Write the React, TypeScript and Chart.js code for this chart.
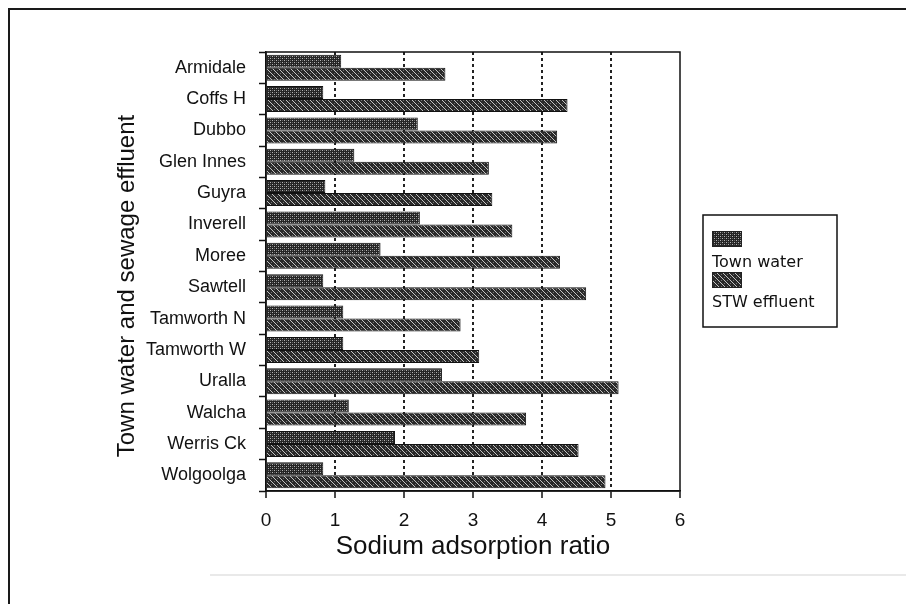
import React, { useEffect, useRef } from "react";
import { Chart, registerables } from "chart.js";

Chart.register(...registerables);

const categories = [
  "Armidale", "Coffs H", "Dubbo", "Glen Innes", "Guyra", "Inverell", "Moree",
  "Sawtell", "Tamworth N", "Tamworth W", "Uralla", "Walcha", "Werris Ck", "Wolgoolga",
];
const townWater = [1.09, 0.83, 2.2, 1.28, 0.86, 2.23, 1.66, 0.83, 1.12, 1.12, 2.55, 1.2, 1.87, 0.83];
const stwEffluent = [2.6, 4.37, 4.22, 3.23, 3.28, 3.57, 4.26, 4.64, 2.82, 3.09, 5.11, 3.77, 4.53, 4.92];
const xTicks = [0, 1, 2, 3, 4, 5, 6];
const seriesNames = ["Town water", "STW effluent"];
const xTitle = "Sodium adsorption ratio";
const yTitle = "Town water and sewage effluent";

function makeTownPattern(): CanvasPattern | string {
  const c = document.createElement("canvas");
  c.width = 4;
  c.height = 4;
  const g = c.getContext("2d");
  if (!g) return "#444";
  g.fillStyle = "#252525";
  g.fillRect(0, 0, 4, 4);
  g.fillStyle = "#b4b4b4";
  g.fillRect(0, 0, 1, 1);
  g.fillRect(2, 2, 1, 1);
  g.fillStyle = "#636363";
  g.fillRect(2, 0, 1, 1);
  g.fillRect(0, 2, 1, 1);
  const p = g.createPattern(c, "repeat");
  return p || "#444";
}

function makeStwPattern(): CanvasPattern | string {
  const c = document.createElement("canvas");
  c.width = 6;
  c.height = 6;
  const g = c.getContext("2d");
  if (!g) return "#444";
  g.fillStyle = "#2a2a2a";
  g.fillRect(0, 0, 6, 6);
  g.fillStyle = "#c4c4c4";
  for (let i = 0; i < 6; i++) g.fillRect(i, i, 1, 1);
  g.fillStyle = "#747474";
  g.fillRect(4, 1, 1, 1);
  g.fillRect(1, 4, 1, 1);
  const p = g.createPattern(c, "repeat");
  return p || "#444";
}

export default function App() {
  const ref = useRef<HTMLCanvasElement | null>(null);

  useEffect(() => {
    const canvas = ref.current;
    if (!canvas) return;
    const townPat = makeTownPattern();
    const stwPat = makeStwPattern();

    const decor = {
      id: "decor",
      beforeDraw(chart: any) {
        const ctx = chart.ctx;
        ctx.save();
        ctx.fillStyle = "#ffffff";
        ctx.fillRect(0, 0, chart.width, chart.height);
        // outer frame
        ctx.strokeStyle = "#1a1a1a";
        ctx.lineWidth = 2;
        ctx.beginPath();
        ctx.moveTo(9, 604);
        ctx.lineTo(9, 9);
        ctx.lineTo(906, 9);
        ctx.stroke();
        ctx.strokeStyle = "#e2e2e2";
        ctx.lineWidth = 1.5;
        ctx.beginPath();
        ctx.moveTo(210, 575);
        ctx.lineTo(906, 575);
        ctx.stroke();
        ctx.restore();
      },
      afterDraw(chart: any) {
        const ctx = chart.ctx;
        const a = chart.chartArea;
        ctx.save();
        // plot border
        ctx.strokeStyle = "#111";
        ctx.lineWidth = 1.5;
        ctx.strokeRect(a.left, a.top, a.right - a.left, a.bottom - a.top);
        // y title
        ctx.fillStyle = "#111";
        ctx.font = "24px 'Liberation Sans', Arial, sans-serif";
        ctx.textAlign = "center";
        ctx.textBaseline = "alphabetic";
        ctx.translate(134, 286);
        ctx.rotate(-Math.PI / 2);
        ctx.fillText(yTitle, 0, 0);
        ctx.restore();

        // legend
        ctx.save();
        ctx.strokeStyle = "#111";
        ctx.lineWidth = 1.5;
        ctx.strokeRect(703, 215, 134, 112);
        const pats = [townPat, stwPat];
        const swY = [231, 272];
        const txY = [267, 307];
        ctx.font = "16px 'DejaVu Sans', sans-serif";
        ctx.textAlign = "left";
        ctx.textBaseline = "alphabetic";
        for (let i = 0; i < 2; i++) {
          ctx.fillStyle = pats[i] as any;
          ctx.fillRect(712, swY[i], 30, 16);
          ctx.strokeStyle = "#222";
          ctx.lineWidth = 1;
          ctx.strokeRect(712.5, swY[i] + 0.5, 29, 15);
          ctx.fillStyle = "#111";
          ctx.fillText(seriesNames[i], 712, txY[i]);
        }
        ctx.restore();
      },
    };

    const chart = new Chart(canvas, {
      type: "bar",
      data: {
        labels: categories,
        datasets: [
          {
            label: seriesNames[0],
            data: townWater,
            backgroundColor: townPat as any,
            borderColor: "#111",
            borderWidth: 1,
            categoryPercentage: 0.83,
            barPercentage: 1.0,
          },
          {
            label: seriesNames[1],
            data: stwEffluent,
            backgroundColor: stwPat as any,
            borderColor: "#111",
            borderWidth: 1,
            categoryPercentage: 0.83,
            barPercentage: 1.0,
          },
        ],
      },
      options: {
        indexAxis: "y",
        animation: false,
        responsive: false,
        maintainAspectRatio: false,
        devicePixelRatio: 1,
        layout: { padding: { left: 0, top: 52, right: 226, bottom: 0 } },
        plugins: {
          legend: { display: false },
          tooltip: { enabled: false },
          title: { display: false },
        },
        scales: {
          x: {
            type: "linear",
            min: 0,
            max: 6,
            afterFit: (s: any) => {
              s.height = 113;
            },
            afterBuildTicks: (s: any) => {
              s.ticks = xTicks.map((v) => ({ value: v }));
            },
            ticks: {
              color: "#111",
              font: { family: "'Liberation Sans', Arial, sans-serif", size: 19 },
              padding: 11,
              maxRotation: 0,
              callback: (v: any) => String(v),
            },
            grid: {
              color: (c: any) =>
                c.tick && (c.tick.value === 0 || c.tick.value === 6) ? "rgba(0,0,0,0)" : "#222",
              lineWidth: 2,
              drawTicks: true,
              tickLength: 7,
              tickColor: "#111",
              tickWidth: 1.5,
              tickBorderDash: [],
            },
            border: { display: true, color: "#111", width: 1.5, dash: [3, 3] },
            title: {
              display: true,
              text: xTitle,
              color: "#111",
              font: { family: "'Liberation Sans', Arial, sans-serif", size: 26 },
              padding: { top: 0, bottom: 42 },
            },
          },
          y: {
            type: "category",
            afterFit: (s: any) => {
              s.width = 266;
            },
            ticks: {
              color: "#111",
              font: { family: "'Liberation Sans', Arial, sans-serif", size: 18 },
              padding: 13,
            },
            grid: {
              offset: true,
              drawOnChartArea: false,
              drawTicks: true,
              tickLength: 7,
              tickColor: "#111",
              tickWidth: 1.5,
            },
            border: { display: true, color: "#111", width: 1.5 },
          },
        },
      },
      plugins: [decor],
    } as any);

    return () => chart.destroy();
  }, []);

  return (
    <div style={{ position: "fixed", left: 0, top: 0, width: 906, height: 604, background: "#fff" }}>
      <canvas ref={ref} width={906} height={604} style={{ display: "block", width: 906, height: 604 }} />
    </div>
  );
}
